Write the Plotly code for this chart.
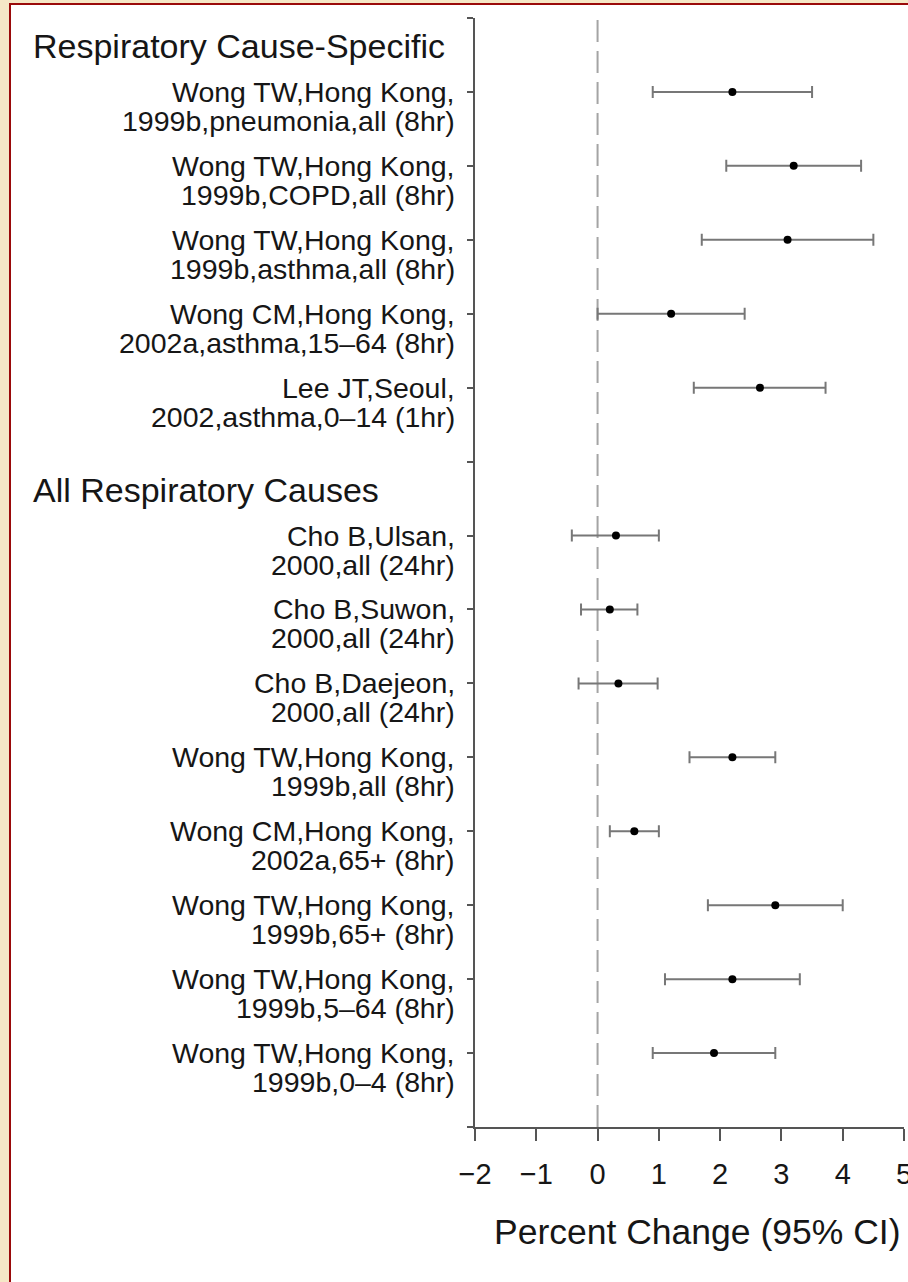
import plotly.graph_objects as go

# Forest plot of percent change in respiratory admissions (95% CI)
groups = ["Respiratory Cause-Specific", "All Respiratory Causes"]

study_line1 = [
    "Wong TW,Hong Kong,", "Wong TW,Hong Kong,", "Wong TW,Hong Kong,",
    "Wong CM,Hong Kong,", "Lee JT,Seoul,",
    "Cho B,Ulsan,", "Cho B,Suwon,", "Cho B,Daejeon,",
    "Wong TW,Hong Kong,", "Wong CM,Hong Kong,", "Wong TW,Hong Kong,",
    "Wong TW,Hong Kong,", "Wong TW,Hong Kong,",
]
study_line2 = [
    "1999b,pneumonia,all (8hr)", "1999b,COPD,all (8hr)", "1999b,asthma,all (8hr)",
    "2002a,asthma,15\u201364 (8hr)", "2002,asthma,0\u201314 (1hr)",
    "2000,all (24hr)", "2000,all (24hr)", "2000,all (24hr)",
    "1999b,all (8hr)", "2002a,65+ (8hr)", "1999b,65+ (8hr)",
    "1999b,5\u201364 (8hr)", "1999b,0\u20134 (8hr)",
]
study_group = [0, 0, 0, 0, 0, 1, 1, 1, 1, 1, 1, 1, 1]

estimate = [2.2, 3.2, 3.1, 1.2, 2.65, 0.3, 0.2, 0.34, 2.2, 0.6, 2.9, 2.2, 1.9]
ci_low = [0.9, 2.1, 1.7, 0.0, 1.57, -0.42, -0.27, -0.31, 1.5, 0.2, 1.8, 1.1, 0.9]
ci_high = [3.5, 4.3, 4.5, 2.4, 3.72, 1.0, 0.65, 0.98, 2.9, 1.0, 4.0, 3.3, 2.9]

x_ticks = [-2, -1, 0, 1, 2, 3, 4, 5]
x_title = "Percent Change (95% CI)"

# ---- row layout: each group header takes a slot, then its studies ----
header_pos = []
study_pos = []
slot = 0
for g in range(len(groups)):
    header_pos.append(slot)
    slot += 1
    for i, sg in enumerate(study_group):
        if sg == g:
            study_pos.append(slot)
            slot += 1
n_slots = slot  # one trailing slot closes the axis at the bottom

W, H = 908, 1282
ML, MR, MT, MB = 475, 4, 18, 155
PW = W - ML - MR
PH = H - MT - MB

def px_x(p):
    return (p - ML) / PW

def px_y(p):
    return (H - MB - p) / PH

FONT = "Liberation Sans, Arial, Helvetica, sans-serif"
INK = "#161616"
AXIS = "#555555"

fig = go.Figure()

fig.add_trace(go.Scatter(
    x=estimate,
    y=study_pos,
    mode="markers",
    marker=dict(color="black", size=8),
    error_x=dict(
        type="data",
        symmetric=False,
        array=[h - e for h, e in zip(ci_high, estimate)],
        arrayminus=[e - l for e, l in zip(estimate, ci_low)],
        color="#777777",
        thickness=2,
        width=6,
    ),
    showlegend=False,
    hoverinfo="skip",
))

# page frame
fig.add_shape(type="rect", xref="paper", yref="paper",
              x0=px_x(10), x1=px_x(W + 20), y0=px_y(H + 20), y1=px_y(4),
              fillcolor="white", line=dict(color="#9a0a0a", width=2),
              layer="below")

# null-effect reference line
fig.add_shape(type="line", xref="x", yref="paper", x0=0, x1=0, y0=0, y1=1,
              line=dict(color="#a4a4a4", width=2, dash="22px,9px"),
              layer="below")

annotations = []
for pos, l1, l2 in zip(study_pos, study_line1, study_line2):
    for txt, shift in ((l1, 0), (l2, -29)):
        annotations.append(dict(
            text=txt, xref="paper", yref="y", x=px_x(457), y=pos,
            xanchor="right", yanchor="middle", yshift=shift, showarrow=False,
            font=dict(family=FONT, size=28.5, color=INK),
        ))
for pos, name in zip(header_pos, groups):
    annotations.append(dict(
        text=name, xref="paper", yref="y", x=px_x(31), y=pos,
        xanchor="left", yanchor="middle", yshift=-28, showarrow=False,
        font=dict(family=FONT, size=34, color=INK),
    ))
annotations.append(dict(
    text=x_title, xref="paper", yref="paper", x=px_x(697), y=px_y(1232),
    xanchor="center", yanchor="middle", showarrow=False,
    font=dict(family=FONT, size=35.5, color=INK),
))

fig.update_layout(
    width=W, height=H, autosize=False,
    margin=dict(l=ML, r=MR, t=MT, b=MB, pad=0, autoexpand=False),
    paper_bgcolor="#f5e7c6",
    plot_bgcolor="white",
    annotations=annotations,
    xaxis=dict(
        range=[x_ticks[0], x_ticks[-1]],
        tickvals=x_ticks,
        automargin=False,
        ticks="outside", ticklen=12, tickwidth=2, tickcolor=AXIS,
        showline=True, linecolor=AXIS, linewidth=2,
        showgrid=False, zeroline=False,
        tickfont=dict(family=FONT, size=29, color=INK),
        ticklabelstandoff=8,
        ticklabeloverflow="allow",
    ),
    yaxis=dict(
        range=[n_slots, 0],
        tickvals=list(range(n_slots + 1)),
        automargin=False,
        showticklabels=False,
        ticks="outside", ticklen=6, tickwidth=2, tickcolor=AXIS,
        showline=True, linecolor=AXIS, linewidth=2,
        showgrid=False, zeroline=False,
    ),
)

fig.write_html("out.html")
